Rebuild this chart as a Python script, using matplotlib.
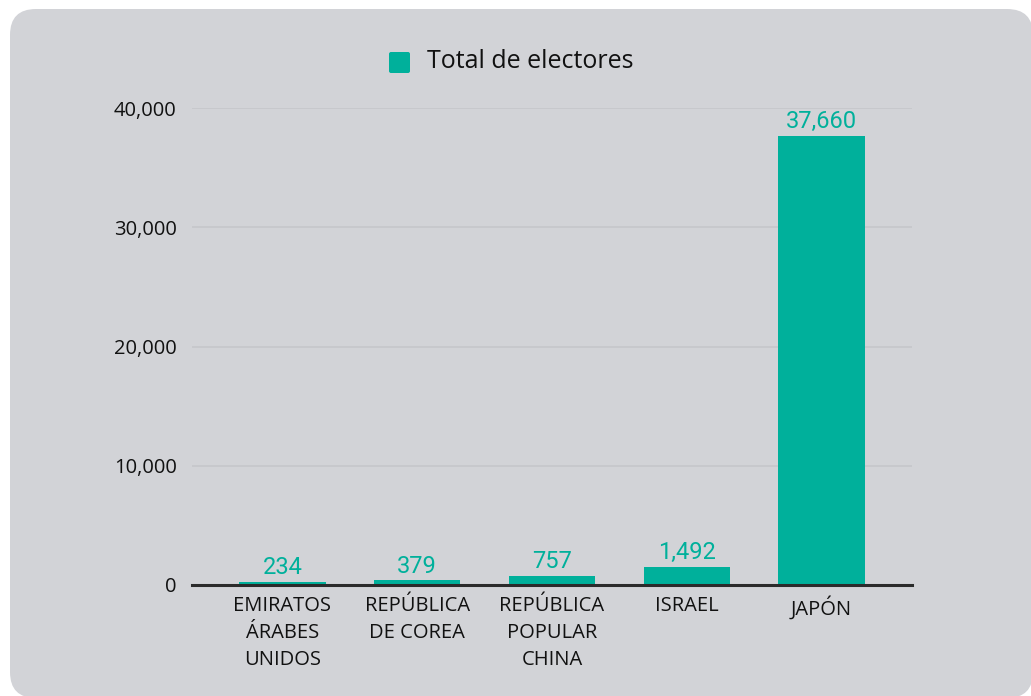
import matplotlib.pyplot as plt
from matplotlib.patches import FancyBboxPatch

# datos
paises = ["EMIRATOS\nÁRABES\nUNIDOS", "REPÚBLICA\nDE COREA", "REPÚBLICA\nPOPULAR\nCHINA", "ISRAEL", "JAPÓN"]
electores = [234, 379, 757, 1492, 37660]
serie = "Total de electores"
yticks = [0, 10000, 20000, 30000, 40000]

verde = "#00b09b"
gris_panel = "#d2d3d7"

W, H = 1031, 696
fig = plt.figure(figsize=(W / 100, H / 100), dpi=100)
fig.patch.set_facecolor("white")

# panel gris redondeado
bg = fig.add_axes([0, 0, 1, 1])
bg.set_xlim(0, W)
bg.set_ylim(H, 0)
bg.axis("off")
bg.add_patch(FancyBboxPatch((10, 9), W - 8, H - 7,
                            boxstyle="round,pad=0,rounding_size=26",
                            fc=gris_panel, ec="none"))

# area del grafico en pixeles
x0, x1 = 192, 912
y_top, y_zero = 108, 585
ax = fig.add_axes([x0 / W, 1 - y_zero / H, (x1 - x0) / W, (y_zero - y_top) / H])
ax.set_facecolor("none")

pos = range(len(paises))
bars = ax.bar(pos, electores, width=0.64, color=verde, zorder=3)

pad = 23 / 135
ax.set_xlim(-0.5 - pad, len(paises) - 0.5 + pad)
ax.set_ylim(0, 40000)
ax.set_yticks(yticks)
ax.set_yticklabels([f"{v:,}" for v in yticks], fontsize=14.5, family="Open Sans", color="#111111")
ax.set_xticks(list(pos))
ax.set_xticklabels(paises, fontsize=14.5, family="Open Sans", color="#111111", linespacing=1.45)
ax.tick_params(axis="both", length=0)
ax.tick_params(axis="y", pad=11)
ax.tick_params(axis="x", pad=8)

ax.grid(axis="y", color="#c5c6ca", linewidth=1.2, zorder=0)
for s in ["top", "right", "left"]:
    ax.spines[s].set_visible(False)
ax.spines["bottom"].set_color("#2b2b2b")
ax.spines["bottom"].set_linewidth(2.2)
ax.spines["bottom"].set_zorder(4)

for p, v in zip(pos, electores):
    ax.annotate(f"{v:,}", (p, v), xytext=(0, 2), textcoords="offset points",
                ha="center", va="bottom", fontsize=17, family="Roboto", color=verde)

# leyenda
bg.add_patch(FancyBboxPatch((389, 52), 21, 21, boxstyle="round,pad=0,rounding_size=2",
                            fc=verde, ec="none"))
bg.text(427, 62, serie, fontsize=18, family="Open Sans", color="#111111",
        va="center", ha="left")

fig.savefig("out.png", dpi=100)
